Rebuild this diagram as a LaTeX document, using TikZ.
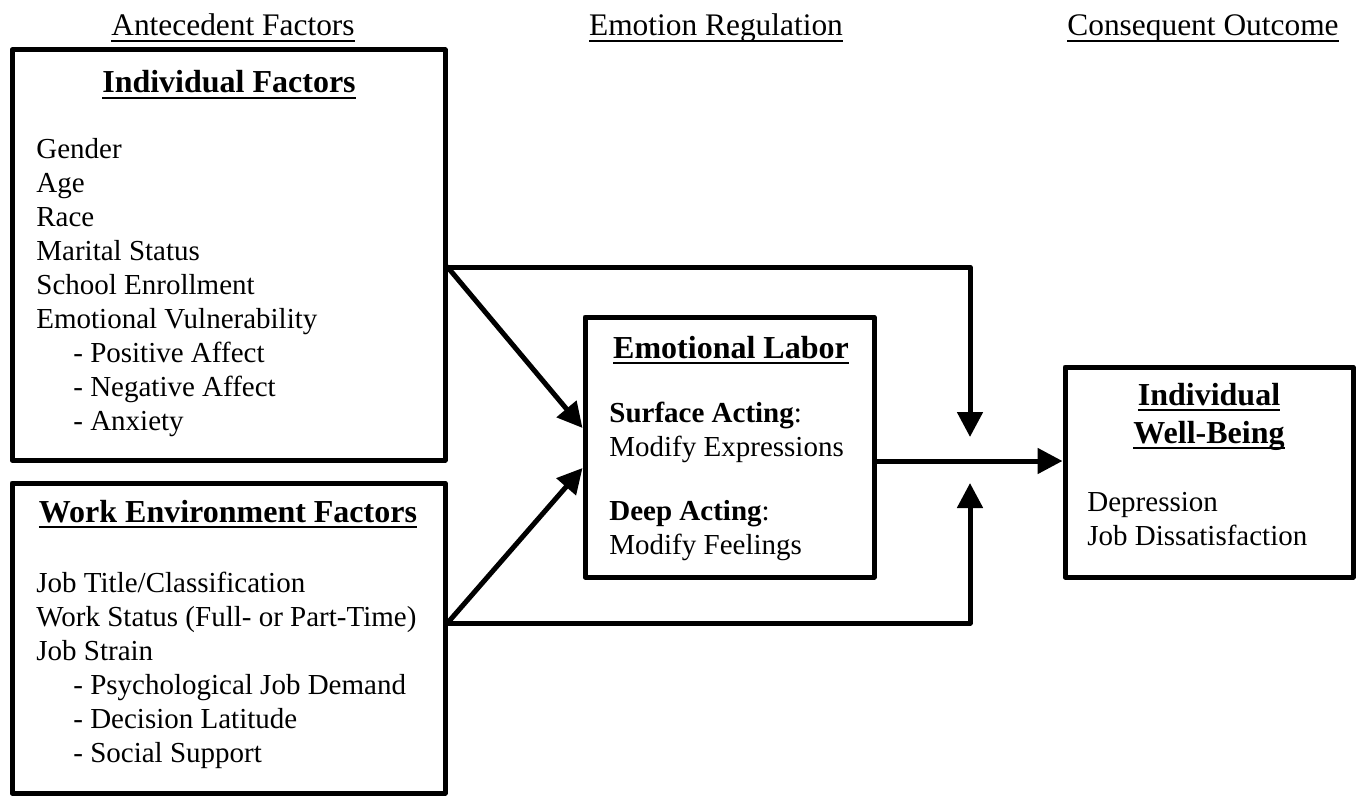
\documentclass[tikz,border=0pt]{standalone}
\usepackage{fontspec}
\setmainfont{Liberation Serif}
\usetikzlibrary{arrows.meta,fit}
\newcommand{\ulined}[1]{\setbox0\hbox{#1}\leavevmode\rlap{\rule[-2.8pt]{\wd0}{1pt}}\box0}
\newcommand{\indentdash}{\hspace*{18.5pt}- }
\begin{document}
\begin{tikzpicture}[x=0.5pt, y=-0.5pt, line cap=round, line join=round, >={Triangle[length=12.5pt,width=12.5pt]}]
	\tikzset{
		box/.style={draw, line width=2.5pt, inner sep=0pt},
		link/.style={line width=2.5pt, ->},
		head/.style={font=\fontsize{15.7}{18}\selectfont, anchor=base, inner sep=0pt},
		title/.style={font=\bfseries\fontsize{16}{19}\selectfont, anchor=base, inner sep=0pt, align=center},
		items/.style={font=\fontsize{14.5}{17}\selectfont, anchor=north west, inner sep=0pt, align=left}
	}
	\useasboundingbox (0,0) rectangle (1361,797);
	% column headings
	\node[head] (hant) at (233,36) {\ulined{Antecedent Factors}};
	\node[head] (hreg) at (716,36) {\ulined{Emotion Regulation}};
	\node[head] (hcon) at (1203,36) {\ulined{Consequent Outcome}};
	% boxes
	\node[box, fit={(12,50) (445,460)}] (indiv) {};
	\node[box, fit={(12,483) (445,793)}] (work) {};
	\node[box, fit={(585,317) (874,577)}] (labor) {};
	\node[box, fit={(1065,367) (1353,577)}] (well) {};
	% box texts
	\node[title] (tindiv) at (229,93) {\ulined{Individual Factors}};
	\node[items] (lindiv) at (36,138) {Gender\\Age\\Race\\Marital Status\\School Enrollment\\Emotional Vulnerability\\\indentdash Positive Affect\\\indentdash Negative Affect\\\indentdash Anxiety};
	\node[title] (twork) at (228,522) {\ulined{Work Environment Factors}};
	\node[items] (lwork) at (36,572) {Job Title/Classification\\Work Status (Full- or Part-Time)\\Job Strain\\\indentdash Psychological Job Demand\\\indentdash Decision Latitude\\\indentdash Social Support};
	\node[title] (tlabor) at (731,358) {\ulined{Emotional Labor}};
	\node[items] (llabor) at (609,402) {\textbf{Surface Acting}:\\Modify Expressions\\[15pt]\textbf{Deep Acting}:\\Modify Feelings};
	\node[title, anchor=north] (twell) at (1209,383) {\ulined{Individual}\\\ulined{Well-Being}};
	\node[items] (lwell) at (1087,492) {Depression\\Job Dissatisfaction};
	% connectors
	\coordinate (iout) at (indiv.east |- 0,267);
	\coordinate (wout) at (work.east |- 0,623);
	\coordinate (dropA) at (970,437);
	\coordinate (riseB) at (970,483);
	\draw[link] (iout) -- (iout -| dropA) -- (dropA);
	\draw[link] (iout) -- (labor.west |- 0,428);
	\draw[link] (wout) -- (labor.west |- 0,468);
	\draw[link] (wout) -- (wout -| riseB) -- (riseB);
	\draw[link] (labor.east |- 0,461) -- (well.west |- 0,461);
\end{tikzpicture}
\end{document}
